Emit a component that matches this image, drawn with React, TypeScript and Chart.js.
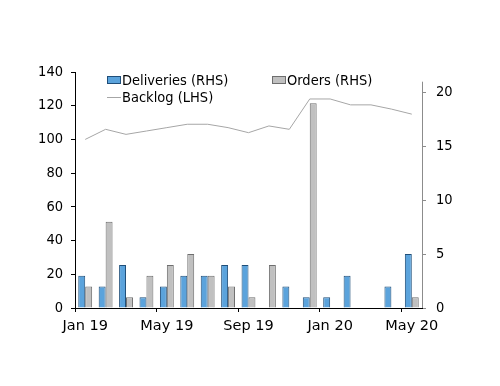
import React, { useEffect, useRef } from "react";
import { Chart, registerables } from "chart.js";

Chart.register(...registerables);

const categories = ["Jan 19","Feb 19","Mar 19","Apr 19","May 19","Jun 19","Jul 19","Aug 19","Sep 19","Oct 19","Nov 19","Dec 19","Jan 20","Feb 20","Mar 20","Apr 20","May 20"];
const deliveries = [3,2,4,1,2,3,3,4,4,0,2,1,1,3,0,2,5];
const orders = [2,8,1,3,4,5,3,2,1,4,0,19,0,0,0,0,1];
const backlog = [100,106,103,105,107,109,109,107,104,108,106,124,124,120.5,120.5,118,115];
const leftTicks = [0,20,40,60,80,100,120,140];
const rightTicks = [0,5,10,15,20];

const FONT = "'DejaVu Sans Condensed', 'DejaVu Sans', sans-serif";
const FONT_WIDE = "'DejaVu Sans', sans-serif";

const legendPlugin = {
  id: "customLegend",
  afterDraw(chart: any) {
    const ctx = chart.ctx;
    const ds = chart.data.datasets;
    ctx.save();
    ctx.font = "14.5px " + FONT;
    ctx.textBaseline = "middle";
    ctx.textAlign = "left";
    ctx.fillStyle = "#000";
    const items = [
      { d: ds[0], x: 107, y: 80 },
      { d: ds[1], x: 272, y: 80 },
      { d: ds[2], x: 107, y: 97 },
    ];
    for (const it of items) {
      if (it.d.type === "line") {
        ctx.strokeStyle = it.d.borderColor;
        ctx.lineWidth = 1;
        ctx.beginPath();
        ctx.moveTo(it.x, it.y + 0.5);
        ctx.lineTo(it.x + 14, it.y + 0.5);
        ctx.stroke();
      } else {
        ctx.fillStyle = it.d.backgroundColor;
        ctx.fillRect(it.x, it.y - 4, 14, 8);
        ctx.strokeStyle = it.d.borderColor;
        ctx.lineWidth = 1;
        ctx.strokeRect(it.x + 0.5, it.y - 3.5, 13, 7);
      }
      ctx.fillStyle = "#000";
      ctx.fillText(it.d.label, it.x + 15, it.y + 1);
    }
    // right axis line (shorter than the left one)
    const yR = chart.scales.yR;
    ctx.strokeStyle = "#8c8c8c";
    ctx.lineWidth = 1;
    ctx.beginPath();
    const xr = Math.round(chart.chartArea.right) + 0.5;
    ctx.moveTo(xr, yR.getPixelForValue(21));
    ctx.lineTo(xr, chart.chartArea.bottom);
    ctx.stroke();
    ctx.restore();
  },
};

export default function App() {
  const ref = useRef<HTMLCanvasElement>(null);
  useEffect(() => {
    if (!ref.current) return;
    Chart.defaults.font.family = FONT;
    Chart.defaults.font.size = 14;
    Chart.defaults.color = "#000";
    const chart = new Chart(ref.current, {
      type: "bar",
      data: {
        labels: categories,
        datasets: [
          {
            type: "bar",
            label: "Deliveries (RHS)",
            data: deliveries,
            yAxisID: "yR",
            backgroundColor: "#5ba3dc",
            borderColor: "#1f4e79",
            borderWidth: 1,
            categoryPercentage: 0.68,
            barPercentage: 1,
            order: 2,
          },
          {
            type: "bar",
            label: "Orders (RHS)",
            data: orders,
            yAxisID: "yR",
            backgroundColor: "#c0c0c0",
            borderColor: "#6e6e6e",
            borderWidth: 1,
            categoryPercentage: 0.68,
            barPercentage: 1,
            order: 2,
          },
          {
            type: "line",
            label: "Backlog (LHS)",
            data: backlog,
            yAxisID: "yL",
            borderColor: "#a6a6a6",
            borderWidth: 1,
            pointRadius: 0,
            tension: 0,
            fill: false,
            order: 1,
          },
        ] as any,
      },
      options: {
        animation: false,
        responsive: false,
        layout: { padding: { top: 72, left: 0, right: 0, bottom: 0 } },
        plugins: { legend: { display: false }, tooltip: { enabled: false } },
        scales: {
          x: {
            offset: true,
            grid: {
              offset: true,
              drawOnChartArea: false,
              drawTicks: true,
              tickLength: 4,
              tickColor: (c: any) => (c.index % 4 === 0 ? "#000" : "rgba(0,0,0,0)"),
            },
            border: { display: true, color: "#000", width: 1 },
            ticks: {
              autoSkip: false,
              maxRotation: 0,
              padding: 6,
              font: { size: 14.5, family: FONT_WIDE },
              callback: (_v: any, i: number) => (i % 4 === 0 ? categories[i] : ""),
            },
            afterFit: (s: any) => { s.height = 78; },
          },
          yL: {
            position: "left",
            min: 0,
            max: 140,
            grid: { drawOnChartArea: false, tickLength: 4, tickColor: "#000" },
            border: { display: true, color: "#000", width: 1 },
            ticks: { stepSize: 20, padding: 8, font: { size: 14.5 } },
            afterBuildTicks: (s: any) => { s.ticks = leftTicks.map((v) => ({ value: v })); },
            afterFit: (s: any) => { s.width = 75; },
          },
          yR: {
            position: "right",
            min: 0,
            max: 21.9,
            grid: { drawOnChartArea: false, tickLength: 4, tickColor: "#8c8c8c" },
            border: { display: false },
            ticks: { stepSize: 5, padding: 10, font: { size: 14.5 } },
            afterBuildTicks: (s: any) => { s.ticks = rightTicks.map((v) => ({ value: v })); },
            afterFit: (s: any) => { s.width = 78; },
          },
        },
      } as any,
      plugins: [legendPlugin],
    });
    return () => chart.destroy();
  }, []);
  return (
    <div style={{ position: "absolute", left: 0, top: 0, width: 500, height: 386, background: "#fff" }}>
      <canvas ref={ref} width={500} height={386} />
    </div>
  );
}
